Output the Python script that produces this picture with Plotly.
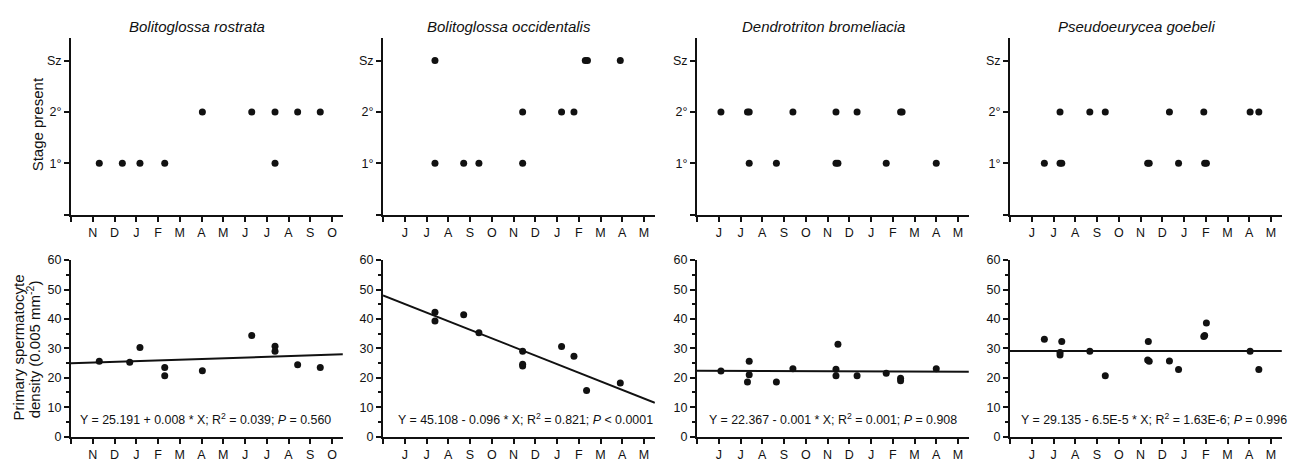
import plotly.graph_objects as go

W, H = 1297, 463

species = ["Bolitoglossa rostrata", "Bolitoglossa occidentalis",
           "Dendrotriton bromeliacia", "Pseudoeurycea goebeli"]

months_a = ["N", "D", "J", "F", "M", "A", "M", "J", "J", "A", "S", "O"]
months_b = ["J", "J", "A", "S", "O", "N", "D", "J", "F", "M", "A", "M"]
month_labels = [months_a, months_b, months_b, months_b]

stage_ticktext = ["", "1°", "2°", "Sz"]

# Stage present (x in month positions, y: 1 = 1°, 2 = 2°, 3 = Sz)
stage_x_1 = [1.30, 2.36, 3.17, 4.31, 6.04, 8.31, 9.38, 9.38, 10.42, 11.46]
stage_y_1 = [1, 1, 1, 1, 2, 2, 2, 1, 2, 2]
stage_x_2 = [2.39, 2.39, 3.71, 4.41, 6.42, 6.42, 8.21, 8.78, 9.30, 9.40, 10.91]
stage_y_2 = [3, 1, 1, 1, 2, 1, 2, 2, 3, 3, 3]
stage_x_3 = [1.10, 2.32, 2.40, 2.40, 3.65, 4.41, 6.39, 6.39, 6.48, 7.36, 8.70, 9.36, 9.43, 11.00]
stage_y_3 = [2, 2, 2, 1, 1, 2, 2, 1, 1, 2, 1, 2, 2, 1]
stage_x_4 = [1.58, 2.30, 2.30, 2.38, 3.67, 4.38, 6.33, 6.40, 7.33, 7.75, 8.91, 8.95, 9.03, 11.04, 11.44]
stage_y_4 = [1, 2, 1, 1, 2, 2, 1, 1, 2, 1, 2, 1, 1, 2, 2]

# Primary spermatocyte density
dens_x_1 = [1.30, 2.70, 3.17, 4.31, 4.31, 6.04, 8.31, 9.38, 9.38, 10.42, 11.46]
dens_y_1 = [25.6, 25.3, 30.3, 23.5, 20.7, 22.4, 34.4, 30.7, 29.0, 24.4, 23.5]
dens_x_2 = [2.39, 2.39, 3.71, 4.41, 6.42, 6.42, 6.42, 8.21, 8.78, 9.36, 10.91]
dens_y_2 = [42.3, 39.3, 41.4, 35.3, 29.0, 24.0, 24.6, 30.6, 27.3, 15.7, 18.2]
dens_x_3 = [1.10, 2.32, 2.40, 2.40, 3.65, 4.41, 6.39, 6.39, 6.48, 7.36, 8.70, 9.36, 9.36, 11.00]
dens_y_3 = [22.3, 18.6, 25.6, 21.0, 18.6, 23.1, 22.9, 20.7, 31.4, 20.7, 21.5, 19.8, 19.0, 23.1]
dens_x_4 = [1.58, 2.38, 2.30, 2.30, 3.67, 4.38, 6.36, 6.33, 6.40, 7.33, 7.75, 8.91, 8.95, 9.03, 11.04, 11.44]
dens_y_4 = [33.1, 32.3, 28.6, 27.7, 29.0, 20.7, 32.3, 26.0, 25.6, 25.7, 22.8, 34.0, 34.4, 38.6, 29.0, 22.8]

# Regression (X in days from the first month tick)
reg_intercept = [25.191, 45.108, 22.367, 29.135]
reg_slope = [0.008, -0.096, -0.001, -0.000065]
equations = [
    "Y = 25.191 + 0.008 * X; R<sup>2</sup> = 0.039; <i>P</i> = 0.560",
    "Y = 45.108 - 0.096 * X; R<sup>2</sup> = 0.821; <i>P</i> &lt; 0.0001",
    "Y = 22.367 - 0.001 * X; R<sup>2</sup> = 0.001; <i>P</i> = 0.908",
    "Y = 29.135 - 6.5E-5 * X; R<sup>2</sup> = 1.63E-6; <i>P</i> = 0.996",
]

stage_x = [stage_x_1, stage_x_2, stage_x_3, stage_x_4]
stage_y = [stage_y_1, stage_y_2, stage_y_3, stage_y_4]
dens_x = [dens_x_1, dens_x_2, dens_x_3, dens_x_4]
dens_y = [dens_y_1, dens_y_2, dens_y_3, dens_y_4]

DAYS_PER_MONTH = 30.44
X_MAX = 12.5
FONT = "Arial, Liberation Sans, Helvetica, sans-serif"
INK = "#111111"

origins_px = [71, 383, 697, 1010]
px_per_month = 21.75
top_px = (32, 214)
bot_px = (261, 443)

def ydom(p):
    return [1 - p[1] / H, 1 - p[0] / H]

fig = go.Figure()
layout = dict(
    width=W, height=H, margin=dict(l=0, r=0, t=0, b=0),
    paper_bgcolor="white", plot_bgcolor="white", showlegend=False,
    font=dict(family=FONT, size=12, color=INK),
)
annotations = []

for i in range(4):
    x0 = origins_px[i] / W
    x1 = (origins_px[i] + X_MAX * px_per_month) / W
    top_idx = 2 * i + 1
    bot_idx = 2 * i + 2
    for idx, dom in ((top_idx, top_px), (bot_idx, bot_px)):
        xa = "xaxis" if idx == 1 else f"xaxis{idx}"
        ya = "yaxis" if idx == 1 else f"yaxis{idx}"
        layout[xa] = dict(
            domain=[x0, x1], anchor=f"y{idx}" if idx > 1 else "y",
            range=[0, X_MAX], tickvals=list(range(13)),
            ticktext=[""] + month_labels[i],
            showline=True, linecolor=INK, linewidth=2,
            ticks="outside", ticklen=5, tickwidth=1.5, tickcolor=INK,
            showgrid=False, zeroline=False,
            tickfont=dict(family=FONT, size=12.5, color=INK),
        )
        yd = dict(
            domain=ydom(dom), anchor=f"x{idx}" if idx > 1 else "x",
            showline=True, linecolor=INK, linewidth=2,
            ticks="outside", ticklen=5, tickwidth=1.5, tickcolor=INK,
            showgrid=False, zeroline=False,
            tickfont=dict(family=FONT, size=12.5, color=INK),
        )
        if idx == top_idx:
            yd.update(range=[0, 3.44], tickvals=[0, 1, 2, 3], ticktext=stage_ticktext)
        else:
            yd.update(range=[0, 60], tickvals=list(range(0, 61, 10)),
                      minor=dict(dtick=5, ticks="outside", ticklen=3,
                                 tickwidth=1.5, tickcolor=INK))
        layout[ya] = yd

    xt = "x" if top_idx == 1 else f"x{top_idx}"
    yt = "y" if top_idx == 1 else f"y{top_idx}"
    xb = f"x{bot_idx}"
    yb = f"y{bot_idx}"

    fig.add_trace(go.Scatter(x=stage_x[i], y=stage_y[i], mode="markers",
                             marker=dict(size=7, color=INK), xaxis=xt, yaxis=yt,
                             cliponaxis=False))
    fig.add_trace(go.Scatter(x=dens_x[i], y=dens_y[i], mode="markers",
                             marker=dict(size=7, color=INK), xaxis=xb, yaxis=yb,
                             cliponaxis=False))
    lx = [0, X_MAX]
    ly = [reg_intercept[i] + reg_slope[i] * (v - 1) * DAYS_PER_MONTH for v in lx]
    fig.add_trace(go.Scatter(x=lx, y=ly, mode="lines",
                             line=dict(color=INK, width=2), xaxis=xb, yaxis=yb))

    annotations.append(dict(
        text=f"<i>{species[i]}</i>", xref=xt, yref="paper",
        x=5.8, y=1 - 20 / H, showarrow=False, xanchor="center", yanchor="middle",
        font=dict(family=FONT, size=15, color=INK)))
    eq_x = [6.2, 6.53, 6.27, 6.6][i]
    annotations.append(dict(
        text=equations[i], xref=xb, yref=yb, x=eq_x, y=6,
        showarrow=False, xanchor="center", yanchor="middle",
        font=dict(family=FONT, size=12.4, color=INK)))

annotations.append(dict(
    text="Stage present", xref="paper", yref="paper", x=37 / W, y=1 - 121 / H,
    textangle=-90, showarrow=False, xanchor="center", yanchor="middle",
    font=dict(family=FONT, size=15, color=INK)))
annotations.append(dict(
    text="Primary spermatocyte", xref="paper", yref="paper", x=18 / W, y=1 - 351 / H,
    textangle=-90, showarrow=False, xanchor="center", yanchor="middle",
    font=dict(family=FONT, size=15, color=INK)))
annotations.append(dict(
    text="density (0.005 mm<sup>-2</sup>)", xref="paper", yref="paper", x=33 / W,
    y=1 - 353 / H, textangle=-90, showarrow=False, xanchor="center", yanchor="middle",
    font=dict(family=FONT, size=15, color=INK)))

layout["annotations"] = annotations
fig.update_layout(**layout)
fig.write_html("out.html",
               config={"displayModeBar": False},
               post_script="document.body.style.margin='0';document.body.style.overflow='hidden';")
